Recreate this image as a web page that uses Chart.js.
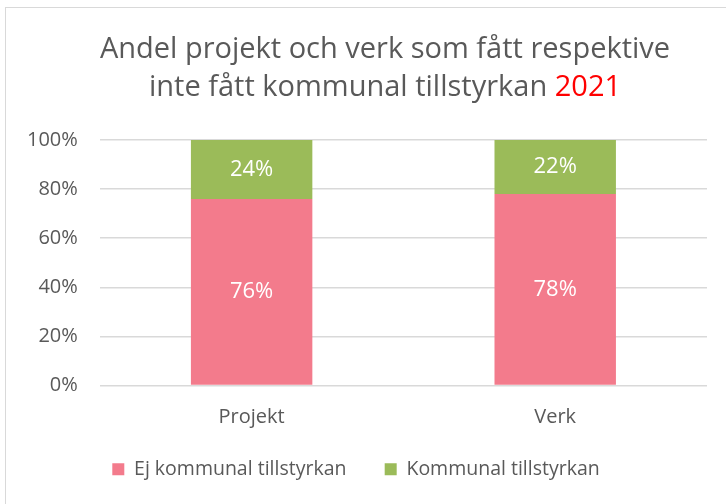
<!DOCTYPE html>
<html>
<head>
<meta charset="utf-8">
<script src="https://cdn.jsdelivr.net/npm/chart.js@4"></script>
<style>
  html, body { margin: 0; padding: 0; background: #fff; }
  #frame { position: absolute; left: 5px; top: 7px; width: 740px; height: 520px; border: 1.5px solid #d9d9d9; box-sizing: border-box; }
  #wrap { position: absolute; left: 0; top: 0; width: 726px; height: 504px; }
</style>
</head>
<body>
<div id="frame"></div>
<div id="wrap"><canvas id="shareChart" width="726" height="504"></canvas></div>
<script>
// data
const categories = ['Projekt', 'Verk'];
const ejKommunal = [76, 78];
const kommunal = [24, 22];
const seriesNames = ['Ej kommunal tillstyrkan', 'Kommunal tillstyrkan'];
const titleLines = ['Andel projekt och verk som fått respektive', 'inte fått kommunal tillstyrkan'];
const titleYear = '2021';

const textGray = '#595959';
const fontFamily = "'Open Sans', 'Noto Sans', sans-serif";

// title with a red year, drawn by hand since the built-in title is one colour
const titlePlugin = {
  id: 'twoColourTitle',
  afterDraw(chart) {
    const ctx = chart.ctx;
    ctx.save();
    ctx.font = '29px ' + fontFamily;
    ctx.textBaseline = 'middle';
    ctx.textAlign = 'left';
    const cx = 385;
    let w1 = ctx.measureText(titleLines[0]).width;
    ctx.fillStyle = textGray;
    ctx.fillText(titleLines[0], cx - w1 / 2, 50);
    let w2a = ctx.measureText(titleLines[1] + ' ').width;
    let w2b = ctx.measureText(titleYear).width;
    let x2 = cx - (w2a + w2b) / 2;
    ctx.fillText(titleLines[1] + ' ', x2, 88);
    ctx.fillStyle = '#ff0000';
    ctx.fillText(titleYear, x2 + w2a, 88);
    ctx.restore();
  }
};

// white value labels inside each bar segment
const labelPlugin = {
  id: 'barLabels',
  afterDatasetsDraw(chart) {
    const ctx = chart.ctx;
    ctx.save();
    ctx.font = '22px ' + fontFamily;
    ctx.fillStyle = '#ffffff';
    ctx.textAlign = 'center';
    ctx.textBaseline = 'middle';
    chart.data.datasets.forEach((ds, i) => {
      chart.getDatasetMeta(i).data.forEach((bar, j) => {
        const mid = (bar.y + bar.base) / 2;
        ctx.fillText(ds.data[j] + '%', bar.x, mid);
      });
    });
    ctx.restore();
  }
};

let ctx = document.getElementById('shareChart').getContext('2d');
let shareChart = new Chart(ctx, {
  type: 'bar',
  data: {
    labels: categories,
    datasets: [{
      label: seriesNames[0],
      data: ejKommunal,
      backgroundColor: '#f37b8c',
      categoryPercentage: 0.4,
      barPercentage: 1.0
    }, {
      label: seriesNames[1],
      data: kommunal,
      backgroundColor: '#9bbb59',
      categoryPercentage: 0.4,
      barPercentage: 1.0
    }]
  },
  options: {
    responsive: false,
    animation: false,
    layout: { padding: { top: 140, left: 5, right: 19, bottom: 15 } },
    plugins: {
      title: { display: false },
      tooltip: { enabled: false },
      legend: {
        position: 'bottom',
        labels: {
          boxWidth: 12,
          boxHeight: 12,
          padding: 18,
          color: textGray,
          font: { family: fontFamily, size: 19.5 },
          // wider gap between the two entries, like the original
          generateLabels(chart) {
            const items = Chart.defaults.plugins.legend.labels.generateLabels(chart);
            items[0].text += '    ';
            return items;
          }
        }
      }
    },
    scales: {
      x: {
        stacked: true,
        grid: { display: false },
        border: { display: false },
        ticks: { color: textGray, padding: 12, font: { family: fontFamily, size: 20 } }
      },
      y: {
        stacked: true,
        min: 0,
        max: 100,
        grid: { color: '#d9d9d9', lineWidth: 1.5, drawTicks: false },
        border: { display: false },
        ticks: {
          stepSize: 20,
          padding: 22,
          color: textGray,
          font: { family: fontFamily, size: 20 },
          callback: v => v + '%'
        }
      }
    }
  },
  plugins: [titlePlugin, labelPlugin]
});
</script>
</body>
</html>
